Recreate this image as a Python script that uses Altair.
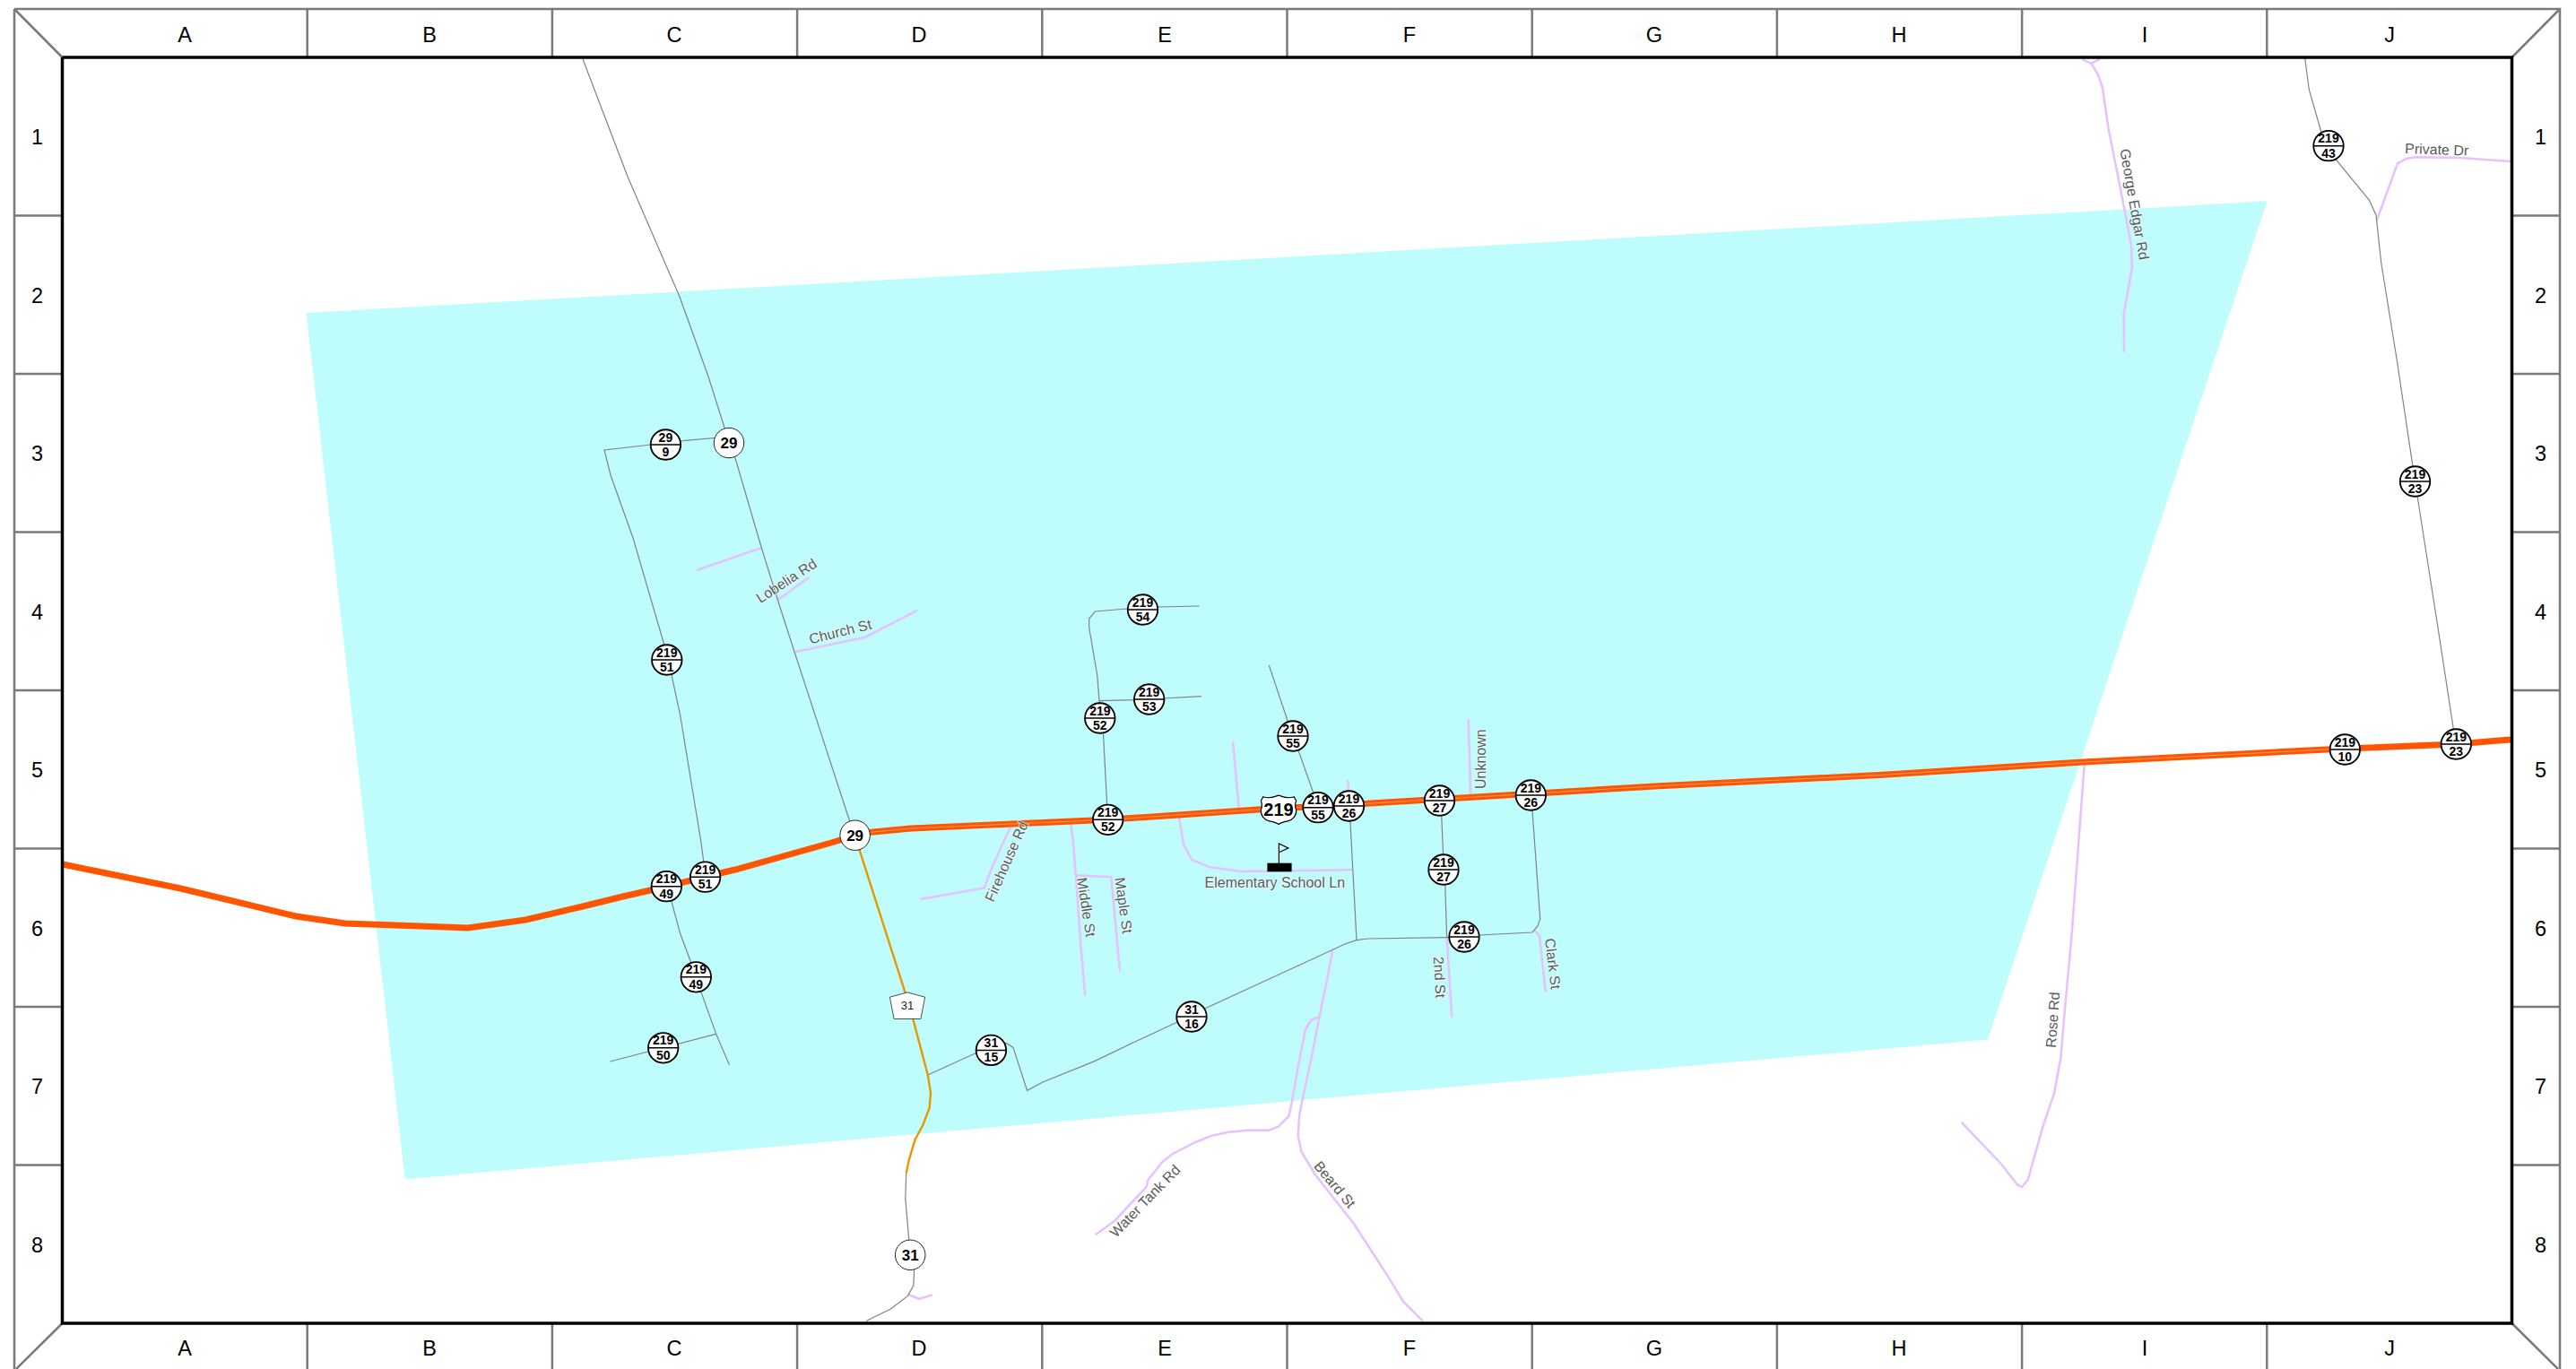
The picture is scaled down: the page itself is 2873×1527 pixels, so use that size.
import altair as alt
import pandas as pd

# ---------- map extent ----------
X0, X1, Y0, Y1 = 8, 2865, 8, 1527

# ---------- service area polygon (top and bottom edge) ----------
area_x = [341.5, 451.7, 2217, 2528.6]
area_top = [349, 342.7, 242.1, 224.3]
area_bottom = [349, 1315.3, 1159.6, 224.3]

# ---------- highway ----------
us219 = [(69.6,964),(201.5,991),(330,1022),(385,1030),(522,1035),(586,1026),(650,1011),(694.6,1000),(743,989),
         (786,978),(820,970),(927,940),(953.6,932),(971.4,928.3),(1016,924),(1235.7,914.3),(1403,903),(1518,896.7),
         (1850,876.7),(2100,864.3),(2323,850),(2600,835.7),(2739,830),(2800,825)]
us219_center = [(971.4,928.3),(1016,924),(1235.7,914.3),(1403,903),(1518,896.7),(1850,876.7),(2100,864.3),(2323,850),(2600,835.7)]

# ---------- route 31 (paved) ----------
route31 = [(953.6,932),(959,949.4),(1009.4,1106.6),(1018.3,1136.6),(1034.8,1199),(1038,1219),(1036.6,1235.8),
           (1029.5,1254.5),(1020.5,1271.3),(1013.8,1293.8),(1010.7,1308.8)]

# ---------- county roads (grey) ----------
grey_roads = [
    [(650,66),(700,197),(758,331),(790,420),(808,477),(820,511),(849,610),(867,668),(886,727),(948,917),(954,932)],
    [(813,487),(759,492),(726,496),(674,502),(681,530),(706,600),(741,720),(749,753),(758.5,797),(782,940),(787,978)],
    [(743,989),(749,1005.5),(758.5,1041),(770.5,1073),(782,1106.6),(798.7,1153.4),(813.4,1187.8)],
    [(680.4,1184),(798.7,1153.4)],
    [(1034.8,1199),(1089.7,1174),(1105,1171),(1122.3,1163.5),(1130,1168.4),(1145.5,1216.3),(1163,1207),(1221.4,1183.4),
     (1261.6,1164),(1313,1140),(1329,1134),(1343.8,1125),(1500.7,1052.7),(1513,1048.7),(1525.5,1047),(1613.6,1045.7),
     (1633,1045),(1650,1043),(1709,1040),(1715,1033),(1717.7,1025),(1708.9,903),(1707,887)],
    [(1505,899),(1513,1048.7)],
    [(1607,893),(1609.7,955),(1611.7,985),(1613.6,1045.7)],
    [(1415.3,742),(1436.4,805),(1442,821),(1448,836.7),(1465,885)],
    [(1234.8,900),(1230.4,816.7),(1226,781.7),(1223.7,753),(1214.7,700),(1214.7,690),(1221.4,682),(1257,679),(1274.5,680),(1290.6,677),(1337.5,676)],
    [(1226,781.7),(1266,780.7),(1297.3,779),(1339.7,776.7)],
    [(2570.7,65),(2575.3,100),(2588.7,146.7),(2597,162.7),(2606,179),(2642.3,223),(2650,240),(2655.7,293),(2673,400),(2693.5,537),(2719,700),(2736.3,813),(2739.3,830)],
    [(1010.7,1308.8),(1009.8,1336.9),(1013.8,1383.7),(1015.2,1400),(1019.6,1417.3),(1018.8,1434),(1012.5,1445.4),(993.8,1459.7),(966,1473.5)],
]

# ---------- local roads (pink) ----------
pink_roads = [
    [(777.3,636),(850,610.7)],
    [(867.3,669.3),(902.3,644)],
    [(886.7,727.3),(965,710.7),(1023,680.7)],
    [(1025.9,1002.9),(1097.8,990.5),(1105.4,970),(1118.8,940),(1130,916.7)],
    [(1193.75,913.3),(1196.9,940),(1200,977.4),(1205.8,1059.8),(1210.3,1111)],
    [(1200,976.3),(1239.3,978.2),(1249,1083.4)],
    [(1375,827.3),(1382.4,908.3)],
    [(1314,905.7),(1320,941.7),(1329.2,959),(1349.5,967.3),(1384,972),(1508.3,970.3)],
    [(1503.3,870),(1505,899)],
    [(1637.7,802.3),(1640.4,892.3)],
    [(1613.6,1045.7),(1619.3,1135)],
    [(1711,1037.7),(1716.9,1043.3),(1723.8,1106.7)],
    [(1486,1060.7),(1480,1093.3),(1471.7,1133.3),(1463.3,1176.7),(1453.3,1223.3),(1449.3,1243.3),(1447.7,1266.7),(1451.7,1285),
     (1466.7,1310),(1510,1365),(1546.7,1421.7),(1565,1451.7),(1586.7,1473.3)],
    [(1471.7,1134),(1461.7,1138.3),(1456,1148.3),(1448.3,1186.7),(1440.7,1230),(1437.3,1245),(1425.7,1256.7),(1415,1260.7),(1391.7,1260.7),
     (1370,1262.7),(1351.7,1266.7),(1333.3,1274),(1308.3,1286.7),(1296.7,1295.7),(1280,1316.7),(1279,1323.3),(1243.3,1361.7),(1221.7,1377.3)],
    [(2322.7,66.7),(2332.3,70.7),(2341.9,66)],
    [(2332.3,70.7),(2340,83.3),(2345,98.3),(2351.5,143.3),(2364.8,210),(2377,273.3),(2377.9,298.3),(2368.7,350),(2369,392.7)],
    [(2650.7,246),(2674,182.3),(2684.4,176.7),(2694,175.3),(2743.7,176),(2800.4,180)],
    [(2325,848.2),(2316.7,960.7),(2310,1050),(2303.3,1121.4),(2298.3,1180.4),(2291,1219.6),(2278.3,1257),(2261.7,1316),
     (2255,1324),(2250,1321.4),(2231.7,1298),(2187.7,1251.8)],
    [(1012.5,1443.6),(1025,1449),(1039.7,1444.3)],
]

# ---------- street labels ----------
street_names = ["Lobelia Rd","Church St","George Edgar Rd","Private Dr","Firehouse Rd","Middle St","Maple St",
                "Elementary School Ln","Unknown","2nd St","Clark St","Rose Rd","Water Tank Rd","Beard St"]
street_x = [877.3,937.3,2380,2717.7,1123,1211,1252.7,1421.8,1651.8,1605,1731.4,2290,1277.3,1488.3]
street_y = [648.3,705,228,167.3,961,1012,1010,985,846.7,1090,1075,1137.5,1340,1321.7]
street_angle = [327,346,80,2,294,81,82,0,270,87,83,274,314,50]
street_size = [16,16,16,16,16,16,16,16,16,16,16,16,16,16]

# ---------- two-line route markers ----------
marker_top = ["29","219","219","219","219","219","219","219","219","219","219","219","219","219","219","219","219","31","31","219","219"]
marker_bottom = ["9","51","54","53","52","52","55","55","26","27","27","26","26","49","51","49","50","15","16","43","23"]
marker_x = [742.4,743.75,1274.5,1281.7,1226.8,1235.7,1442,1470,1504.5,1605.5,1610,1707.3,1633,743.3,786.6,776.3,739.7,1105.4,1329,2597,2693.5]
marker_y = [496,736,680,780,801,914.3,821,900.7,899,893,970,887,1045,988.7,978.2,1089.8,1168.8,1171.4,1134,162.7,537]
marker2_top = ["219","219"]
marker2_bottom = ["10","23"]
marker2_x = [2615.3,2739.3]
marker2_y = [836,830]

# ---------- one-line route markers ----------
circle_text = ["29","29","31"]
circle_x = [813,953.6,1015.2]
circle_y = [494,931.7,1399.8]

# ---------- frame ----------
outer = [(16,10),(2855,10),(2855,1527)]
outer_left = [(16,10),(16,1527)]
corner_lines = [[(16,10),(69.5,64)],[(2801.5,64),(2855,10)],[(69.5,1476),(18,1527)],[(2801.5,1476),(2853,1527)]]
inner = [(69.5,64),(2801.5,64),(2801.5,1476),(69.5,1476),(69.5,64)]
col_letters = list("ABCDEFGHIJ")
col_centers = [206,479,752,1025,1299,1572,1845,2118,2392,2665]
col_edges = [342.7,615.9,889.1,1162.3,1435.5,1708.7,1981.9,2255.1,2528.3]
row_digits = list("12345678")
row_centers = [154,331,507,684,860,1037,1213,1390]
row_edges = [240.5,417,593.5,770,946.5,1123,1299.5]

FONT = "Liberation Sans"
xs = alt.Scale(domain=[X0, X1], nice=False, zero=False)
ys = alt.Scale(domain=[Y1, Y0], nice=False, zero=False)
X = lambda f="x": alt.X(f + ":Q", scale=xs, axis=None)
Y = lambda f="y": alt.Y(f + ":Q", scale=ys, axis=None)


def lines_df(groups):
    return pd.DataFrame([{"g": i, "o": j, "x": p[0], "y": p[1]} for i, g in enumerate(groups) for j, p in enumerate(g)])


def draw(groups, **mark):
    return alt.Chart(lines_df(groups)).mark_line(**mark).encode(
        x=X(), y=Y(), detail="g:N", order="o:Q")


service = alt.Chart(pd.DataFrame({"x": area_x, "y": area_top, "y2": area_bottom})).mark_area(
    color="#BFFDFC", opacity=1).encode(x=X(), y=Y(), y2="y2:Q")

pink = draw(pink_roads, color="#E6C0FF", strokeWidth=2.5)
grey = draw(grey_roads, color="#828282", strokeWidth=1.2)
orange31 = draw([route31], color="#E69800", strokeWidth=2.4)
hw = draw([us219], color="#FF5500", strokeWidth=7)
hw_c = draw([us219_center], color="#FFA878", strokeWidth=0.8)

street_layers = []
for name, x, y, a, s in zip(street_names, street_x, street_y, street_angle, street_size):
    d = pd.DataFrame({"t": [name], "x": [x], "y": [y]})
    street_layers.append(alt.Chart(d).mark_text(font=FONT, fontSize=s, angle=a, align="center", baseline="middle",
                                                color="white", stroke="white", strokeWidth=2, strokeOpacity=0.55).encode(x=X(), y=Y(), text="t:N"))
    street_layers.append(alt.Chart(d).mark_text(font=FONT, fontSize=s, angle=a, align="center", baseline="middle",
                                                color="#595959").encode(x=X(), y=Y(), text="t:N"))

m_df = pd.DataFrame({"x": marker_x + marker2_x, "y": marker_y + marker2_y,
                     "a": marker_top + marker2_top, "b": marker_bottom + marker2_bottom})
m_circle = alt.Chart(m_df).mark_point(shape="circle", size=1122, filled=True, fill="white", stroke="black",
                                      strokeWidth=1.8, opacity=1).encode(x=X(), y=Y())
m_bar = alt.Chart(m_df).mark_point(shape="M-1,0L1,0", size=1122, stroke="black", strokeWidth=1.5, opacity=1).encode(x=X(), y=Y())
m_top = alt.Chart(m_df).mark_text(font=FONT, fontWeight="bold", fontSize=14, dy=-7.5, color="black").encode(x=X(), y=Y(), text="a:N")
m_bot = alt.Chart(m_df).mark_text(font=FONT, fontWeight="bold", fontSize=14, dy=9, color="black").encode(x=X(), y=Y(), text="b:N")

c_df = pd.DataFrame({"x": circle_x, "y": circle_y, "t": circle_text})
c_circle = alt.Chart(c_df).mark_point(shape="circle", size=1122, filled=True, fill="white", stroke="#222222",
                                      strokeWidth=1, opacity=1).encode(x=X(), y=Y())
c_text = alt.Chart(c_df).mark_text(font=FONT, fontWeight="bold", fontSize=17, color="black", dy=1).encode(x=X(), y=Y(), text="t:N")

US_SHIELD = ("M-0.85,-0.72 C-0.6,-0.62 -0.3,-0.68 0,-0.8 C0.3,-0.68 0.6,-0.62 0.85,-0.72 L0.97,-0.5 "
             "C0.88,-0.3 0.9,-0.2 0.97,0 C1.0,0.3 0.8,0.55 0.5,0.62 C0.3,0.66 0.1,0.7 0,0.8 "
             "C-0.1,0.7 -0.3,0.66 -0.5,0.62 C-0.8,0.55 -1,0.3 -0.97,0 C-0.9,-0.2 -0.88,-0.3 -0.97,-0.5 Z")
PENTAGON = "M0,-0.75 L1,-0.48 L0.76,0.76 L-0.76,0.76 L-1,-0.48 Z"

shield_df = pd.DataFrame({"x": [1426], "y": [903.3], "t": ["219"]})
shield = alt.Chart(shield_df).mark_point(shape=US_SHIELD, size=1640, filled=True, fill="white", stroke="black",
                                         strokeWidth=1.2, opacity=1).encode(x=X(), y=Y())
shield_t = alt.Chart(shield_df).mark_text(font=FONT, fontWeight="bold", fontSize=20, color="black", dy=1).encode(x=X(), y=Y(), text="t:N")

pent_df = pd.DataFrame({"x": [1012], "y": [1121.6], "t": ["31"]})
pent = alt.Chart(pent_df).mark_point(shape=PENTAGON, size=1537, filled=True, fill="white", stroke="#222222",
                                     strokeWidth=0.8, opacity=1).encode(x=X(), y=Y())
pent_t = alt.Chart(pent_df).mark_text(font=FONT, fontSize=13, color="#222222").encode(x=X(), y=Y(), text="t:N")

school_bar = alt.Chart(pd.DataFrame({"x": [1413.4], "x2": [1440.6], "y": [962.7], "y2": [972.3]})).mark_rect(color="black").encode(
    x=X(), x2="x2:Q", y=Y(), y2="y2:Q")
school_flag = draw([[(1426.4,963),(1426.4,941),(1436.8,946),(1426.4,950.7)]], color="black", strokeWidth=1.2)

edge_groups = ([[(x, 10), (x, 64)] for x in col_edges] + [[(x, 1476), (x, 1527)] for x in col_edges] +
               [[(16, y), (69.5, y)] for y in row_edges] + [[(2801.5, y), (2855, y)] for y in row_edges] +
               [outer, outer_left] + corner_lines)
frame_grey = draw(edge_groups, color="#7A7A7A", strokeWidth=2.5)
frame_black = draw([inner], color="black", strokeWidth=3.5)

lab = lambda xs_, ys_, ts: alt.Chart(pd.DataFrame({"x": xs_, "y": ys_, "t": ts})).mark_text(
    font=FONT, fontSize=23.5, color="black").encode(x=X(), y=Y(), text="t:N")
labels = [lab(col_centers, [40] * 10, col_letters), lab(col_centers, [1505] * 10, col_letters),
          lab([41.5] * 8, row_centers, row_digits), lab([2833.5] * 8, row_centers, row_digits)]

chart = alt.layer(service, pink, grey, orange31, hw, hw_c, *street_layers, school_flag, school_bar,
                  m_circle, m_bar, m_top, m_bot, c_circle, c_text, shield, shield_t, pent, pent_t,
                  frame_grey, frame_black, *labels).properties(
    width=X1 - X0, height=Y1 - Y0, padding=0, background="white",
    autosize=alt.AutoSizeParams(type="none")
).configure_view(stroke=None)

chart.save("out.html", embed_options={"renderer": "svg", "actions": False})
